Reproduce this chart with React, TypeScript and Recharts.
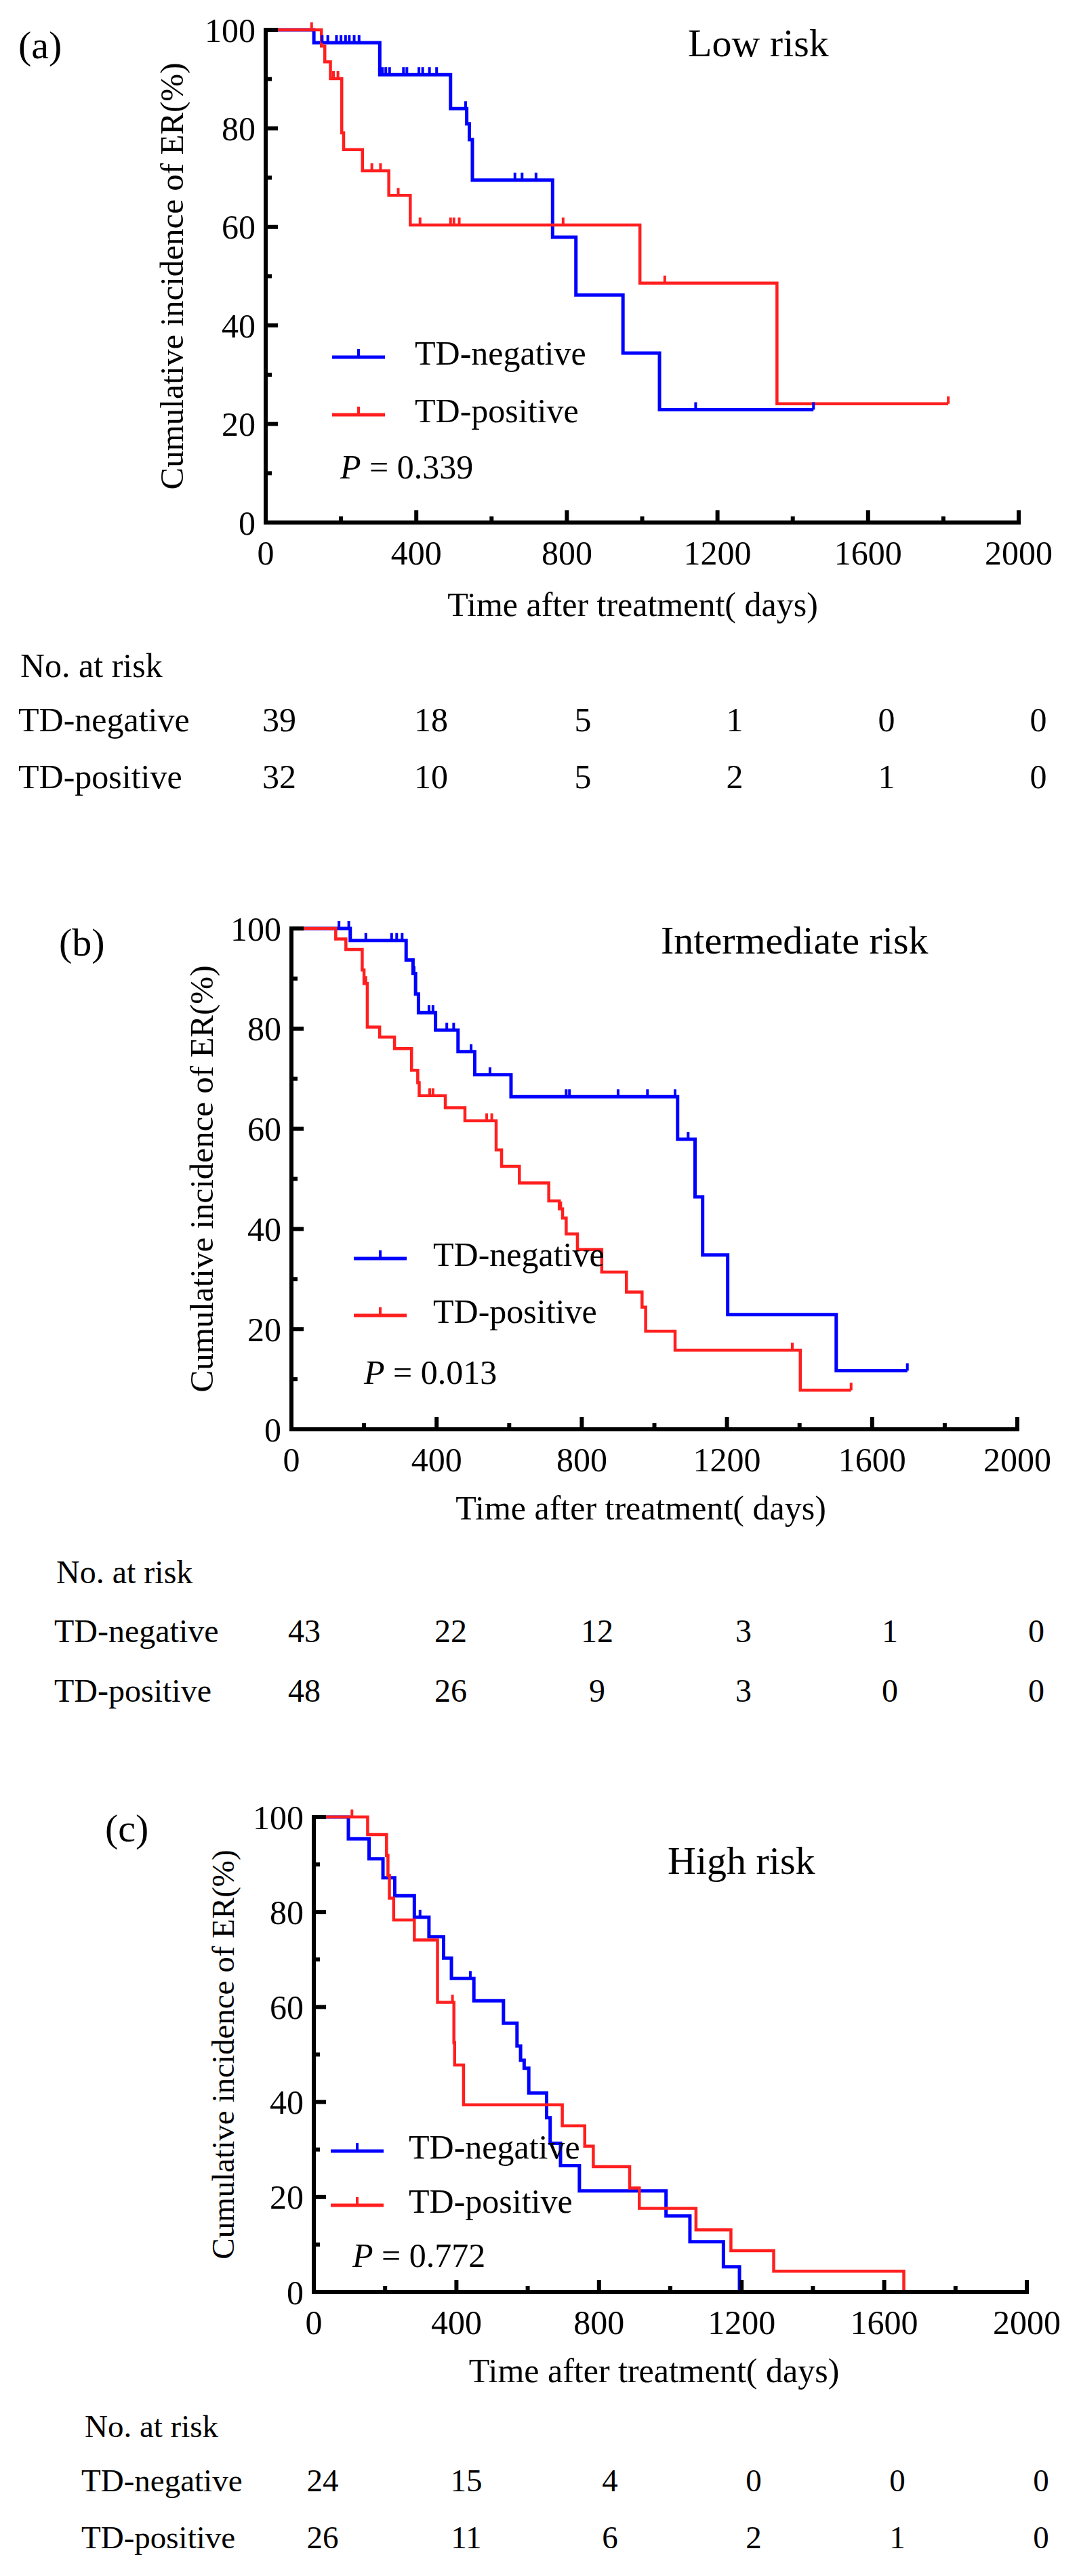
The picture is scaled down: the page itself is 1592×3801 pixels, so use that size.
import React from "react";
import { ComposedChart, Line, XAxis, YAxis, Legend } from "recharts";

// axis ticks
const dayTicks = [0, 200, 400, 600, 800, 1000, 1200, 1400, 1600, 1800, 2000];
const pctTicks = [0, 10, 20, 30, 40, 50, 60, 70, 80, 90, 100];

// (a) low risk
const lowNegDays = [0, 128, 303, 491, 534, 541, 549, 762, 824, 949, 1046];
const lowNegPct = [100, 97.4, 90.9, 84.0, 80.9, 77.7, 69.5, 57.9, 46.2, 34.4, 22.9];
const lowNegCensor = [150, 165, 188, 200, 212, 222, 235, 248, 310, 319, 329, 366, 375, 407, 417, 435, 454, 531, 662, 681, 718, 1142, 1455];
const lowPosDays = [0, 148, 157, 172, 202, 207, 257, 327, 384, 994, 1358];
const lowPosPct = [100, 96.7, 93.5, 90.1, 79.1, 75.7, 71.4, 66.4, 60.4, 48.6, 24.1];
const lowPosCensor = [122, 180, 192, 282, 305, 352, 410, 491, 500, 514, 790, 1060, 1813];
const lowRiskNeg = [39, 18, 5, 1, 0, 0];
const lowRiskPos = [32, 10, 5, 2, 1, 0];

// (b) intermediate risk
const midNegDays = [0, 162, 316, 335, 342, 350, 397, 459, 505, 605, 1064, 1112, 1133, 1202, 1501];
const midNegPct = [100, 97.6, 93.7, 91.0, 86.9, 83.2, 79.7, 75.4, 70.8, 66.4, 57.9, 46.4, 34.8, 22.9, 11.7];
const midNegCensor = [131, 158, 205, 276, 290, 305, 338, 379, 390, 428, 447, 495, 547, 757, 766, 900, 981, 1057, 1093, 1697];
const midPosDays = [0, 122, 150, 195, 200, 209, 243, 284, 331, 348, 352, 424, 478, 564, 579, 628, 709, 738, 747, 757, 788, 855, 923, 966, 976, 1057, 1402];
const midPosPct = [100, 97.9, 95.8, 91.7, 89.0, 80.3, 78.3, 76.0, 71.7, 69.2, 66.6, 64.2, 61.6, 55.8, 52.5, 49.2, 45.6, 44.0, 42.2, 39.0, 35.9, 31.4, 27.4, 24.4, 19.6, 15.8, 7.8];
const midPosCensor = [205, 381, 390, 538, 552, 742, 1380, 1542];
const midRiskNeg = [43, 22, 12, 3, 1, 0];
const midRiskPos = [48, 26, 9, 3, 0, 0];

// (c) high risk
const highNegDays = [0, 97, 155, 194, 227, 282, 323, 364, 386, 449, 532, 570, 580, 590, 603, 653, 663, 692, 745, 988, 1055, 1149, 1194];
const highNegPct = [100, 95.4, 91.2, 87.2, 83.4, 78.9, 74.8, 70.3, 66.0, 61.3, 56.6, 51.8, 48.8, 47.1, 41.9, 36.7, 31.3, 26.6, 21.3, 16.0, 10.6, 5.3, 0];
const highNegCensor = [298, 439];
const highPosDays = [0, 151, 204, 208, 212, 224, 282, 347, 393, 395, 420, 697, 760, 784, 886, 913, 1072, 1170, 1290, 1655];
const highPosPct = [100, 96.3, 91.9, 87.7, 82.9, 78.3, 74.1, 61.0, 52.5, 47.8, 39.4, 35.0, 30.7, 26.4, 21.9, 17.6, 13.1, 8.7, 4.4, 0];
const highPosCensor = [107, 389];
const highRiskNeg = [24, 15, 4, 0, 0, 0];
const highRiskPos = [26, 11, 6, 2, 1, 0];

const BLUE = "#0000ff";
const RED = "#ff1f1f";
const FONT = '"Liberation Serif", "Times New Roman", serif';

// step points + censored points (censored ones sit on the current step level)
function kmRows(days: number[], pct: number[], censor: number[]) {
  const rows = days.map((t, i) => ({ t, v: pct[i], c: false }));
  censor.forEach((ct) => {
    let v = pct[0];
    days.forEach((t, i) => {
      if (t <= ct) v = pct[i];
    });
    rows.push({ t: ct, v, c: true });
  });
  return rows.sort((a, b) => a.t - b.t || Number(a.c) - Number(b.c));
}

const censorDot = (color: string) => (props: any) => {
  const { cx, cy, payload, index } = props;
  if (!payload || !payload.c) return <g key={`d-${index}`} />;
  return <line key={`d-${index}`} x1={cx} x2={cx} y1={cy} y2={cy - 11} stroke={color} strokeWidth={4} />;
};

const DayTick = (props: any) => {
  const { x, y, payload } = props;
  const major = payload.value % 400 === 0;
  return (
    <g>
      <line x1={x} x2={x} y1={y} y2={y - (major ? 18 : 9)} stroke="#000" strokeWidth={6} />
      {major && (
        <text x={x} y={y + 44} dy="0.35em" textAnchor="middle" fontSize={50} fill="#000">
          {payload.value}
        </text>
      )}
    </g>
  );
};

const PctTick = (props: any) => {
  const { x, y, payload } = props;
  const major = payload.value % 20 === 0;
  return (
    <g>
      <line x1={x} x2={x + (major ? 18 : 9)} y1={y} y2={y} stroke="#000" strokeWidth={6} />
      {major && (
        <text x={x - 15} y={y} dy="0.35em" textAnchor="end" fontSize={50} fill="#000">
          {payload.value}
        </text>
      )}
    </g>
  );
};

function Txt({ x, y, size, anchor, children }: any) {
  return (
    <div
      style={{
        position: "absolute",
        left: x,
        top: y - 0.51 * size,
        fontSize: size,
        lineHeight: 1,
        whiteSpace: "nowrap",
        transform: anchor === "middle" ? "translateX(-50%)" : undefined,
      }}
    >
      {children}
    </div>
  );
}

function KmLegend({ rowH, textGap }: any) {
  const items = [
    { name: "TD-negative", color: BLUE },
    { name: "TD-positive", color: RED },
  ];
  return (
    <div style={{ fontFamily: FONT }}>
      {items.map((it) => (
        <div key={it.name} style={{ display: "flex", alignItems: "center", height: rowH }}>
          <svg width={78} height={24} style={{ display: "block" }}>
            <line x1={0} x2={78} y1={18} y2={18} stroke={it.color} strokeWidth={5} />
            <line x1={39} x2={39} y1={18} y2={6} stroke={it.color} strokeWidth={4} />
          </svg>
          <span style={{ marginLeft: textGap, fontSize: 50, lineHeight: 1, color: "#000" }}>{it.name}</span>
        </div>
      ))}
    </div>
  );
}

const panels = [
  {
    key: "a", top: 0, plotTop: 44, plotBottom: 771, plotLeft: 392, plotRight: 1503, xAxisH: 138,
    yTitleX: 253, yTitleSize: 49, xTitleDx: -14,
    letter: "(a)", letterX: 27, letterY: 68, title: "Low risk", titleX: 1015, titleY: 65,
    legendX: 490, legendY: 521, rowH: 85, textX: 612, pX: 502, pY: 689, p: "0.339",
    noRiskX: 30, rowX: 27, noRiskY: 982, rowY: [1062, 1146], col0: 412, colStep: 224, tableSize: 50,
    neg: kmRows(lowNegDays, lowNegPct, lowNegCensor), pos: kmRows(lowPosDays, lowPosPct, lowPosCensor),
    riskNeg: lowRiskNeg, riskPos: lowRiskPos,
  },
  {
    key: "b", top: 1290, plotTop: 1370, plotBottom: 2109, plotLeft: 430, plotRight: 1501, xAxisH: 133,
    yTitleX: 297, yTitleSize: 49, xTitleDx: -20,
    letter: "(b)", letterX: 87, letterY: 1392, title: "Intermediate risk", titleX: 975, titleY: 1389,
    legendX: 522, legendY: 1851, rowH: 84, textX: 639, pX: 537, pY: 2025, p: "0.013",
    noRiskX: 83, rowX: 80, noRiskY: 2320, rowY: [2407, 2495], col0: 449, colStep: 216, tableSize: 48,
    neg: kmRows(midNegDays, midNegPct, midNegCensor), pos: kmRows(midPosDays, midPosPct, midPosCensor),
    riskNeg: midRiskNeg, riskPos: midRiskPos,
  },
  {
    key: "c", top: 2600, plotTop: 2681, plotBottom: 3382, plotLeft: 463, plotRight: 1515, xAxisH: 133,
    yTitleX: 328, yTitleSize: 47, xTitleDx: -24,
    letter: "(c)", letterX: 155, letterY: 2699, title: "High risk", titleX: 985, titleY: 2747,
    legendX: 488, legendY: 3168, rowH: 80, textX: 603, pX: 520, pY: 3328, p: "0.772",
    noRiskX: 125, rowX: 120, noRiskY: 3581, rowY: [3661, 3745], col0: 476, colStep: 212, tableSize: 47,
    neg: kmRows(highNegDays, highNegPct, highNegCensor), pos: kmRows(highPosDays, highPosPct, highPosCensor),
    riskNeg: highRiskNeg, riskPos: highRiskPos,
  },
];

const axisStyle = { stroke: "#000", strokeWidth: 6, strokeLinecap: "square" as const };

function KmPanel({ cfg }: any) {
  const chartH = cfg.plotBottom + cfg.xAxisH + 20 - cfg.top;
  return (
    <>
      <div style={{ position: "absolute", left: 0, top: cfg.top }}>
        <ComposedChart
          width={1592}
          height={chartH}
          margin={{ top: cfg.plotTop - cfg.top, right: 1592 - cfg.plotRight, bottom: 20, left: 0 }}
        >
          <XAxis
            dataKey="t"
            type="number"
            domain={[0, 2000]}
            ticks={dayTicks}
            interval={0}
            height={cfg.xAxisH}
            tickSize={0}
            tickMargin={0}
            tickLine={false}
            axisLine={axisStyle}
            tick={(p: any) => <DayTick {...p} />}
            label={{
              value: "Time after treatment( days)",
              position: "insideBottom",
              offset: 0,
              dx: cfg.xTitleDx,
              fill: "#000",
              fontSize: 50,
            }}
          />
          <YAxis
            type="number"
            domain={[0, 100]}
            ticks={pctTicks}
            interval={0}
            width={cfg.plotLeft}
            tickSize={0}
            tickMargin={0}
            tickLine={false}
            axisLine={axisStyle}
            tick={(p: any) => <PctTick {...p} />}
            label={{
              value: "Cumulative incidence of ER(%)",
              angle: -90,
              position: "insideLeft",
              offset: cfg.yTitleX,
              fill: "#000",
              fontSize: cfg.yTitleSize,
              style: { textAnchor: "middle" },
            }}
          />
          <Line
            data={cfg.neg}
            dataKey="v"
            name="TD-negative"
            type="stepAfter"
            stroke={BLUE}
            strokeWidth={5}
            dot={censorDot(BLUE)}
            activeDot={false}
            isAnimationActive={false}
          />
          <Line
            data={cfg.pos}
            dataKey="v"
            name="TD-positive"
            type="stepAfter"
            stroke={RED}
            strokeWidth={4.5}
            dot={censorDot(RED)}
            activeDot={false}
            isAnimationActive={false}
          />
          <Legend
            layout="vertical"
            align="center"
            verticalAlign="middle"
            wrapperStyle={{
              left: cfg.legendX,
              top: cfg.legendY - cfg.top - cfg.rowH / 2,
              width: "auto",
              height: "auto",
            }}
            content={() => <KmLegend rowH={cfg.rowH} textGap={cfg.textX - cfg.legendX - 78} />}
          />
        </ComposedChart>
      </div>
      <Txt x={cfg.letterX} y={cfg.letterY} size={58}>{cfg.letter}</Txt>
      <Txt x={cfg.titleX} y={cfg.titleY} size={58}>{cfg.title}</Txt>
      <Txt x={cfg.pX} y={cfg.pY} size={50}>
        <i>P</i> = {cfg.p}
      </Txt>
      <Txt x={cfg.noRiskX} y={cfg.noRiskY} size={cfg.tableSize}>No. at risk</Txt>
      <Txt x={cfg.rowX} y={cfg.rowY[0]} size={cfg.tableSize}>TD-negative</Txt>
      <Txt x={cfg.rowX} y={cfg.rowY[1]} size={cfg.tableSize}>TD-positive</Txt>
      {cfg.riskNeg.map((n: number, i: number) => (
        <Txt key={`n${i}`} x={cfg.col0 + i * cfg.colStep} y={cfg.rowY[0]} size={cfg.tableSize} anchor="middle">
          {n}
        </Txt>
      ))}
      {cfg.riskPos.map((n: number, i: number) => (
        <Txt key={`p${i}`} x={cfg.col0 + i * cfg.colStep} y={cfg.rowY[1]} size={cfg.tableSize} anchor="middle">
          {n}
        </Txt>
      ))}
    </>
  );
}

export default function App() {
  return (
    <div
      style={{
        position: "absolute",
        left: 0,
        top: 0,
        width: 1592,
        height: 3801,
        background: "#fff",
        color: "#000",
        fontFamily: FONT,
        overflow: "hidden",
      }}
    >
      {panels.map((cfg) => (
        <KmPanel key={cfg.key} cfg={cfg} />
      ))}
    </div>
  );
}
